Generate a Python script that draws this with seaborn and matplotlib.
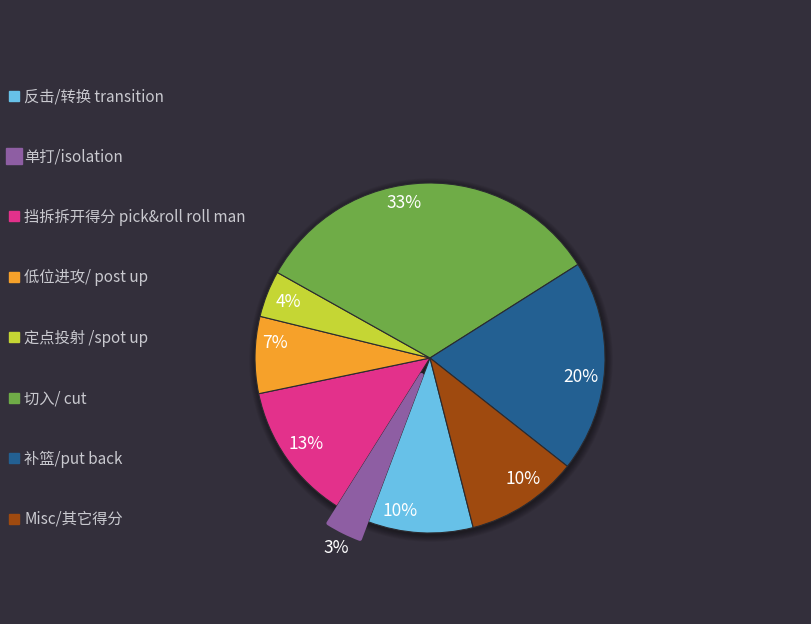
import numpy as np
import matplotlib
matplotlib.use('Agg')
import matplotlib.pyplot as plt
import seaborn as sns
from matplotlib.lines import Line2D
from matplotlib.patches import Circle

categories = ['反击/转换 transition', '单打/isolation', '挡拆拆开得分 pick&roll roll man',
              '低位进攻/ post up', '定点投射 /spot up', '切入/ cut', '补篮/put back', 'Misc/其它得分']
values = [9.7, 3.2, 12.8, 7.1, 4.3, 32.9, 19.6, 10.4]
colors = ['#67c1e8', '#8e5ea3', '#e3318b', '#f6a12a', '#c5d634', '#6fac47', '#236092', '#9f4a0f']

sns.set_theme(style='dark')
plt.rcParams['font.family'] = ['Noto Sans CJK SC', 'DejaVu Sans']
BG = '#332f3b'

fig = plt.figure(figsize=(8.11, 6.24), dpi=100, facecolor=BG)
ax = fig.add_axes([0, 0, 1, 1])
ax.set_facecolor(BG)

cx, cy, R = 430, 624 - 358, 175

# soft shadow around the pie
for i in range(8):
    ax.add_patch(Circle((cx + 1, cy - 2), R + 0.5 + i * 0.9, color='black',
                        alpha=0.055, lw=0, zorder=0))

explode = [0, 19, 0, 0, 0, 0, 0, 0]
wedges, texts, autotexts = ax.pie(
    values, colors=colors, startangle=-75.7, counterclock=False,
    center=(cx, cy), radius=R, explode=explode, autopct='%.0f%%',
    pctdistance=0.88, wedgeprops=dict(edgecolor='#2b2b30', linewidth=0.8),
    textprops=dict(color='white', fontsize=12.5), frame=False)

for w in wedges:
    w.set_zorder(2)
# hovered purple wedge: rounded corners
wp = wedges[1]
wp.set_edgecolor(colors[1])
wp.set_linewidth(3)
wp.set_joinstyle('round')
wp.set_zorder(3)

# label placement (angle nudges in degrees, radius as fraction of R)
nudge = [-8, 0, 0, -4.5, 0, 8, -4, 4.5]
rfrac = [0.89, 1.21, 0.86, 0.89, 0.87, 0.9, 0.87, 0.87]
for i, (w, t) in enumerate(zip(wedges, autotexts)):
    ang = np.deg2rad((w.theta1 + w.theta2) / 2 + nudge[i])
    d = R * rfrac[i]
    t.set_position((cx + d * np.cos(ang), cy + d * np.sin(ang)))
    t.set_zorder(5)

ax.set_xlim(0, 811)
ax.set_ylim(0, 624)
ax.set_aspect('equal')
ax.axis('off')

handles = []
for i, c in enumerate(colors):
    ms = 11 if i == 1 else 6.5
    handles.append(Line2D([], [], marker='s', linestyle='', markersize=ms,
                          markerfacecolor=c, markeredgecolor=c))
leg = fig.legend(handles, categories, loc='upper left',
                 bbox_to_anchor=(9 / 811, 1 - 88 / 624), frameon=False,
                 labelcolor='#c9c9cf', fontsize=11, handlelength=0.6,
                 handletextpad=0.4, labelspacing=2.84, borderaxespad=0,
                 borderpad=0)

fig.savefig('out.png', dpi=100, facecolor=BG)
